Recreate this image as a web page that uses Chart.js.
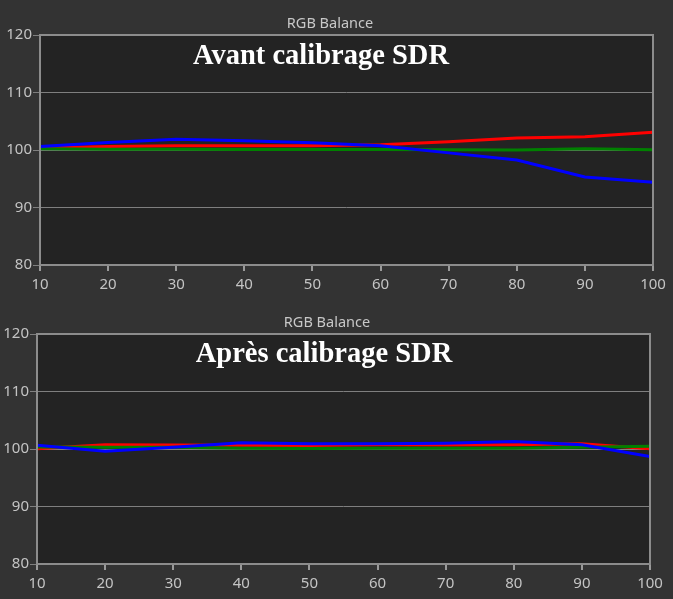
<!DOCTYPE html>
<html>
<head>
<meta charset="utf-8">
<script src="https://cdn.jsdelivr.net/npm/chart.js@4/dist/chart.umd.min.js"></script>
<style>
    html, body { margin: 0; padding: 0; background: #333333; }
    #wrap { position: relative; width: 673px; height: 599px; overflow: hidden; }
    canvas { position: absolute; left: 0; }
    #before { top: 0; }
    #after { top: 300px; }
</style>
</head>
<body>
<div id="wrap">
    <canvas id="before" width="673" height="300"></canvas>
    <canvas id="after" width="673" height="299"></canvas>
</div>
<script>
// grey levels (% stimulus)
const levels = [10, 20, 30, 40, 50, 60, 70, 80, 90, 100];
const yTicks = [80, 90, 100, 110, 120];

// before calibration
const beforeRed = [100.35, 100.6, 100.75, 100.75, 100.75, 100.9, 101.45, 102.1, 102.3, 103.1];
const beforeGreen = [100.2, 100.15, 100.15, 100.1, 100.1, 100.1, 100.05, 100.0, 100.2, 100.05];
const beforeBlue = [100.6, 101.3, 101.85, 101.6, 101.25, 100.75, 99.5, 98.25, 95.3, 94.4];

// after calibration
const afterRed = [100.05, 100.75, 100.7, 100.65, 100.6, 100.75, 100.7, 100.75, 100.9, 100.05];
const afterGreen = [100.35, 100.3, 100.3, 100.15, 100.1, 100.15, 100.15, 100.15, 100.3, 100.5];
const afterBlue = [100.65, 99.6, 100.3, 101.1, 100.9, 100.9, 101.0, 101.3, 100.75, 98.7];

const chartTitle = 'RGB Balance';

const framePlugin = {
    id: 'frame',
    beforeDraw(chart, args, opts) {
        const { ctx, chartArea: a } = chart;
        ctx.save();
        ctx.fillStyle = '#333333';
        ctx.fillRect(0, 0, chart.width, chart.height);
        ctx.fillStyle = '#232323';
        ctx.fillRect(a.left, a.top, a.right - a.left, a.bottom - a.top);
        ctx.restore();
    },
    afterDraw(chart, args, opts) {
        const { ctx, chartArea: a } = chart;
        ctx.save();
        ctx.strokeStyle = '#8c8c8c';
        ctx.lineWidth = 2;
        ctx.strokeRect(a.left, a.top, a.right - a.left, a.bottom - a.top);

        ctx.fillStyle = '#c8c8c8';
        ctx.font = '14.5px "Noto Sans"';
        ctx.textAlign = 'center';
        ctx.textBaseline = 'middle';
        ctx.fillText(chartTitle, opts.titleX, opts.titleY);

        ctx.fillStyle = '#ffffff';
        ctx.font = 'bold 28.5px "Liberation Serif"';
        ctx.textBaseline = 'alphabetic';
        ctx.fillText(opts.caption, opts.capX, opts.capY);
        ctx.restore();
    }
};

function series(values) {
    return levels.map((x, i) => ({ x: x, y: values[i] }));
}

function makeChart(id, red, green, blue, box) {
    const ctx = document.getElementById(id).getContext('2d');
    return new Chart(ctx, {
        type: 'line',
        data: {
            datasets: [
                { label: 'Blue', data: series(blue), borderColor: '#0000ff', order: 0 },
                { label: 'Green', data: series(green), borderColor: '#008000', order: 1 },
                { label: 'Red', data: series(red), borderColor: '#ff0000', order: 2 }
            ]
        },
        options: {
            responsive: false,
            animation: false,
            events: [],
            elements: {
                line: { borderWidth: 3, tension: 0, fill: false },
                point: { radius: 0 }
            },
            layout: {
                padding: { left: 0, right: box.right, top: box.top, bottom: 0 }
            },
            plugins: {
                legend: { display: false },
                title: { display: false },
                tooltip: { enabled: false },
                frame: box.text
            },
            scales: {
                x: {
                    type: 'linear',
                    min: 10,
                    max: 100,
                    afterFit: s => { s.height = 35; },
                    ticks: {
                        stepSize: 10,
                        color: '#c4c4c4',
                        padding: 5,
                        maxRotation: 0,
                        font: { family: 'Noto Sans', size: 15 }
                    },
                    grid: {
                        drawOnChartArea: false,
                        drawTicks: true,
                        tickLength: 6,
                        color: '#9a9a9a',
                        lineWidth: 2
                    },
                    border: { display: false }
                },
                y: {
                    min: 80,
                    max: 120,
                    afterFit: s => { s.width = box.left; },
                    afterBuildTicks: s => { s.ticks = yTicks.map(v => ({ value: v })); },
                    ticks: {
                        color: '#c4c4c4',
                        padding: 1,
                        font: { family: 'Noto Sans', size: 15 }
                    },
                    grid: {
                        color: '#7f7f7f',
                        lineWidth: 1,
                        tickLength: 7
                    },
                    border: { display: false }
                }
            }
        },
        plugins: [framePlugin]
    });
}

makeChart('before', beforeRed, beforeGreen, beforeBlue, {
    left: 40, right: 20, top: 35,
    text: { caption: 'Avant calibrage SDR', capX: 321, capY: 64, titleX: 330, titleY: 24 }
});

makeChart('after', afterRed, afterGreen, afterBlue, {
    left: 37, right: 23, top: 34,
    text: { caption: 'Après calibrage SDR', capX: 324, capY: 62, titleX: 327, titleY: 23 }
});
</script>
</body>
</html>
